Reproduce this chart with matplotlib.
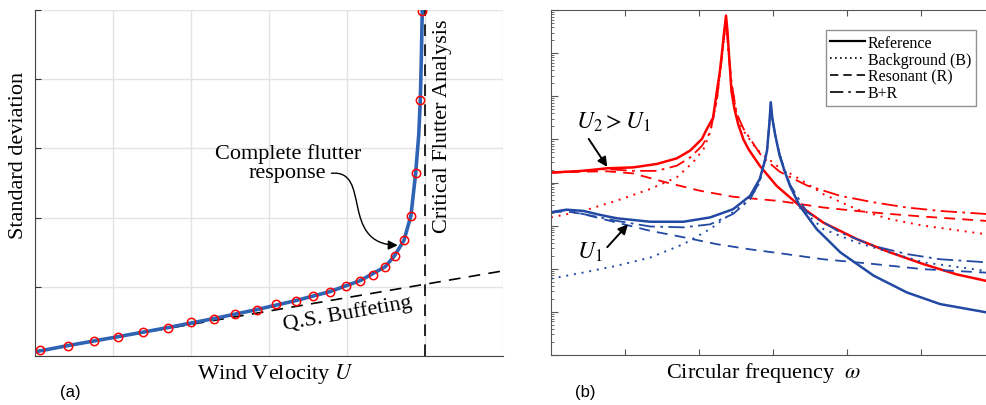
import numpy as np
import matplotlib.pyplot as plt
from matplotlib.path import Path
from matplotlib.patches import FancyArrowPatch
from matplotlib.lines import Line2D
from matplotlib.ticker import LogLocator, NullFormatter

plt.rcParams['font.family'] = 'Liberation Serif'
plt.rcParams['mathtext.fontset'] = 'stix'

# (a) flutter response vs wind velocity
u_pts = [0.07, 0.42, 0.75, 1.07, 1.38, 1.70, 2.00, 2.29, 2.57, 2.84, 3.09, 3.34,
         3.57, 3.78, 3.99, 4.17, 4.33, 4.49, 4.61, 4.73, 4.82, 4.88, 4.94, 4.96]
sd_pts = [0.09, 0.15, 0.21, 0.28, 0.35, 0.41, 0.49, 0.54, 0.61, 0.67, 0.75, 0.80,
          0.87, 0.93, 1.01, 1.09, 1.17, 1.29, 1.45, 1.67, 2.03, 2.64, 3.70, 4.99]
u_line = [0.0, 0.42, 1.07, 1.70, 2.29, 2.84, 3.34, 3.78, 4.17, 4.49, 4.61, 4.73,
          4.82, 4.88, 4.92, 4.94, 4.955, 4.965]
sd_line = [0.06, 0.15, 0.28, 0.41, 0.54, 0.67, 0.80, 0.93, 1.09, 1.29, 1.45, 1.67,
           2.03, 2.64, 3.20, 3.70, 4.40, 5.00]
qs_u = [0.0, 6.0]
qs_sd = [0.07, 1.23]
u_crit = 5.0

# (b) spectra, log10 of the spectral density
w_red_ref = [0.0, 0.43, 0.76, 1.11, 1.43, 1.70, 1.88, 2.04, 2.10, 2.19, 2.24, 2.28, 2.31, 2.34,
             2.365, 2.385, 2.40, 2.42, 2.44, 2.48, 2.53, 2.60, 2.67, 2.82, 3.05, 3.36, 3.68,
             4.13, 4.58, 5.03, 5.48, 5.88, 6.0]
lg_red_ref = [4.23, 4.27, 4.33, 4.35, 4.43, 4.56, 4.74, 5.01, 5.22, 5.50, 6.10, 6.55, 7.00, 7.50,
              7.87, 7.50, 7.10, 6.60, 6.10, 5.70, 5.35, 5.00, 4.77, 4.39, 3.92, 3.46, 3.07,
              2.69, 2.38, 2.11, 1.87, 1.72, 1.68]
w_red_r = [0.0, 0.43, 0.76, 1.11, 1.56, 2.01, 2.46, 3.09, 3.68, 4.13, 4.58, 5.03, 5.88, 6.0]
lg_red_r = [4.23, 4.25, 4.26, 4.21, 4.00, 3.81, 3.67, 3.57, 3.42, 3.34, 3.27, 3.21, 3.11, 3.09]
w_red_b = [0.0, 0.43, 0.89, 1.34, 1.70, 1.92, 2.06, 2.15, 2.24, 2.31, 2.365, 2.40, 2.44, 2.51,
           2.60, 2.78, 3.05, 3.36, 3.68, 4.13, 4.58, 5.03, 5.88, 6.0]
lg_red_b = [3.19, 3.34, 3.58, 3.85, 4.12, 4.47, 4.77, 5.16, 5.90, 6.90, 7.80, 7.00, 6.30, 5.55,
            5.20, 4.77, 4.39, 4.08, 3.73, 3.38, 3.15, 3.00, 2.80, 2.77]
w_red_br = [0.0, 0.43, 0.76, 1.11, 1.43, 1.70, 1.88, 2.04, 2.15, 2.24, 2.31, 2.365, 2.40, 2.44,
            2.51, 2.60, 2.85, 3.09, 3.46, 3.91, 4.36, 4.81, 5.26, 5.88, 6.0]
lg_red_br = [4.23, 4.27, 4.31, 4.27, 4.27, 4.39, 4.58, 4.85, 5.16, 5.90, 6.90, 7.80, 7.00, 6.30,
             5.60, 5.25, 4.60, 4.25, 3.93, 3.69, 3.54, 3.42, 3.34, 3.27, 3.25]

w_blu_ref = [0.0, 0.21, 0.44, 0.66, 0.89, 1.34, 1.79, 2.15, 2.46, 2.69, 2.82, 2.89, 2.92, 2.95,
             2.97, 2.99, 3.03, 3.09, 3.16, 3.23, 3.36, 3.59, 3.91, 4.36, 4.81, 5.26, 5.88, 6.0]
lg_blu_ref = [3.31, 3.37, 3.34, 3.25, 3.17, 3.09, 3.09, 3.19, 3.38, 3.69, 4.08, 4.50, 4.75, 5.35,
              5.86, 5.50, 5.10, 4.62, 4.25, 3.92, 3.46, 2.92, 2.38, 1.84, 1.45, 1.18, 0.99, 0.96]
w_blu_r = [0.0, 0.21, 0.43, 0.89, 1.34, 1.79, 2.24, 2.69, 3.09, 3.68, 4.36, 5.03, 5.88, 6.0]
lg_blu_r = [3.31, 3.33, 3.27, 3.07, 2.88, 2.73, 2.57, 2.45, 2.36, 2.22, 2.11, 1.99, 1.91, 1.90]
w_blu_b = [0.0, 0.43, 0.89, 1.34, 1.79, 2.15, 2.46, 2.69, 2.82, 2.92, 2.95, 2.97, 2.99, 3.03,
           3.09, 3.16, 3.23, 3.36, 3.68, 4.13, 4.58, 5.03, 5.88, 6.0]
lg_blu_b = [1.77, 1.91, 2.07, 2.26, 2.57, 2.92, 3.31, 3.62, 4.00, 4.75, 5.35, 5.86, 5.50, 5.10,
            4.65, 4.28, 3.95, 3.42, 2.92, 2.61, 2.38, 2.15, 1.95, 1.93]
w_blu_br = [0.0, 0.21, 0.43, 0.89, 1.34, 1.79, 2.15, 2.46, 2.69, 2.82, 2.92, 2.95, 2.97, 2.99,
            3.03, 3.09, 3.16, 3.23, 3.46, 3.91, 4.36, 4.81, 5.26, 5.88, 6.0]
lg_blu_br = [3.31, 3.36, 3.27, 3.11, 2.98, 2.96, 3.03, 3.27, 3.61, 4.02, 4.75, 5.35, 5.86, 5.50,
             5.10, 4.65, 4.28, 3.95, 3.31, 2.84, 2.53, 2.34, 2.22, 2.15, 2.14]

fig = plt.figure(figsize=(9.86, 4.06), dpi=100)
W, H = 986.0, 406.0

# ---- panel (a)
ax1 = fig.add_axes([35 / W, 1 - 357 / H, 468 / W, 346 / H])
ax1.set_xlim(0, 6)
ax1.set_ylim(0, 5)
ax1.set_xticks(range(7))
ax1.set_yticks(range(6))
ax1.grid(True, color='#e3e3e3', lw=1)
ax1.set_axisbelow(True)
ax1.tick_params(axis='y', direction='in', length=4, color='#333333', labelleft=False)
ax1.tick_params(axis='x', length=0, labelbottom=False)
for s in ['top', 'right']:
    ax1.spines[s].set_visible(False)
for s in ['left', 'bottom']:
    ax1.spines[s].set_color('#444444')

ax1.plot(qs_u, qs_sd, color='black', lw=1.2, ls=(0, (7, 5)))
ax1.axvline(u_crit, color='black', lw=1.2, ls=(0, (7, 5)))
ax1.plot(u_line, sd_line, color='#2f64b5', lw=2.6, solid_capstyle='round', zorder=3)
ax1.plot(u_pts, sd_pts, 'o', mfc='none', mec='red', ms=6, mew=1.1, zorder=4)

ax1.text(4.0, 0.63, 'Q.S. Buffeting', fontsize=16, rotation=10, ha='center', va='center')
ax1.text(5.23, 3.34, 'Critical Flutter Analysis', fontsize=16, rotation=90,
         ha='center', va='center')
ax1.text(3.24, 2.80, 'Complete flutter\nresponse', fontsize=16, ha='center', va='center',
         linespacing=0.98)
arrow_path = Path([(3.80, 2.64), (4.32, 2.70), (3.90, 1.62), (4.65, 1.60)],
                  [Path.MOVETO, Path.CURVE4, Path.CURVE4, Path.CURVE4])
ax1.add_patch(FancyArrowPatch(path=arrow_path, arrowstyle='-|>', mutation_scale=14,
                              color='black', lw=1.0, zorder=5))

fig.text(19 / W, 1 - 155 / H, 'Standard deviation', fontsize=16, rotation=90,
         ha='center', va='center')
fig.text(275 / W, 1 - 374 / H, 'Wind Velocity $U$', fontsize=16, ha='center', va='center')
fig.text(70 / W, 1 - 393 / H, '(a)', fontsize=12, family='Liberation Sans',
         ha='center', va='center')

# ---- panel (b)
ax2 = fig.add_axes([551 / W, 1 - 356 / H, 444 / W, 345 / H])
ax2.set_yscale('log')
ax2.set_xlim(0, 6)
ax2.set_ylim(1, 1e8)

red = '#ff0000'
blue = '#2249a3'
curves = [
    (w_red_ref, lg_red_ref, red, '-', 1.8),
    (w_red_b, lg_red_b, red, (0, (1, 3)), 1.4),
    (w_red_r, lg_red_r, red, (0, (6, 4)), 1.3),
    (w_red_br, lg_red_br, red, (0, (9, 3, 1.5, 3)), 1.3),
    (w_blu_ref, lg_blu_ref, blue, '-', 1.8),
    (w_blu_b, lg_blu_b, blue, (0, (1, 3)), 1.4),
    (w_blu_r, lg_blu_r, blue, (0, (6, 4)), 1.3),
    (w_blu_br, lg_blu_br, blue, (0, (9, 3, 1.5, 3)), 1.3),
]
for w, lg, c, ls, lw in curves:
    ax2.plot(w, 10 ** np.array(lg), color=c, ls=ls, lw=lw)

ax2.set_xticks(range(1, 6))
ax2.yaxis.set_major_locator(LogLocator(base=10, numticks=20))
ax2.yaxis.set_minor_locator(LogLocator(base=10, subs=np.arange(2, 10), numticks=20))
ax2.yaxis.set_major_formatter(NullFormatter())
ax2.yaxis.set_minor_formatter(NullFormatter())
ax2.tick_params(axis='x', which='both', direction='in', top=True, length=4,
                color='#555555', labelbottom=False)
ax2.tick_params(axis='y', which='major', direction='in', length=5, color='#555555')
ax2.tick_params(axis='y', which='minor', direction='in', length=2.5, color='#555555')
for s in ax2.spines.values():
    s.set_color('#555555')

handles = [Line2D([], [], color='black', ls='-', lw=1.6),
           Line2D([], [], color='black', ls=(0, (1, 2)), lw=1.2),
           Line2D([], [], color='black', ls=(0, (5, 3)), lw=1.2),
           Line2D([], [], color='black', ls=(0, (8, 3, 1.5, 3)), lw=1.2)]
labels = ['Reference', 'Background (B)', 'Resonant (R)', 'B+R']
leg = fig.legend(handles, labels, loc='upper right', bbox_to_anchor=(976 / W, 1 - 31 / H),
                 fontsize=11.5, frameon=True, fancybox=False, edgecolor='#777777',
                 handlelength=2.2, handletextpad=0.15, labelspacing=0.05, borderpad=0.3,
                 borderaxespad=0)
leg.get_frame().set_linewidth(1.0)

ax2.annotate('', xy=(0.76, 10 ** 4.36), xytext=(0.51, 10 ** 5.01),
             arrowprops=dict(arrowstyle='-|>', color='black', lw=1.4, mutation_scale=14,
                             shrinkA=0, shrinkB=0))
ax2.text(0.84, 10 ** 5.42, '$U_2 > U_1$', fontsize=17, ha='center', va='center')
ax2.annotate('', xy=(1.04, 10 ** 3.03), xytext=(0.76, 10 ** 2.50),
             arrowprops=dict(arrowstyle='-|>', color='black', lw=1.4, mutation_scale=14,
                             shrinkA=0, shrinkB=0))
ax2.text(0.53, 10 ** 2.41, '$U_1$', fontsize=17, ha='center', va='center')

fig.text(764 / W, 1 - 373 / H, r'Circular frequency  $\omega$', fontsize=16,
         ha='center', va='center')
fig.text(585 / W, 1 - 393 / H, '(b)', fontsize=12, family='Liberation Sans',
         ha='center', va='center')

fig.savefig('out.png', dpi=100)
